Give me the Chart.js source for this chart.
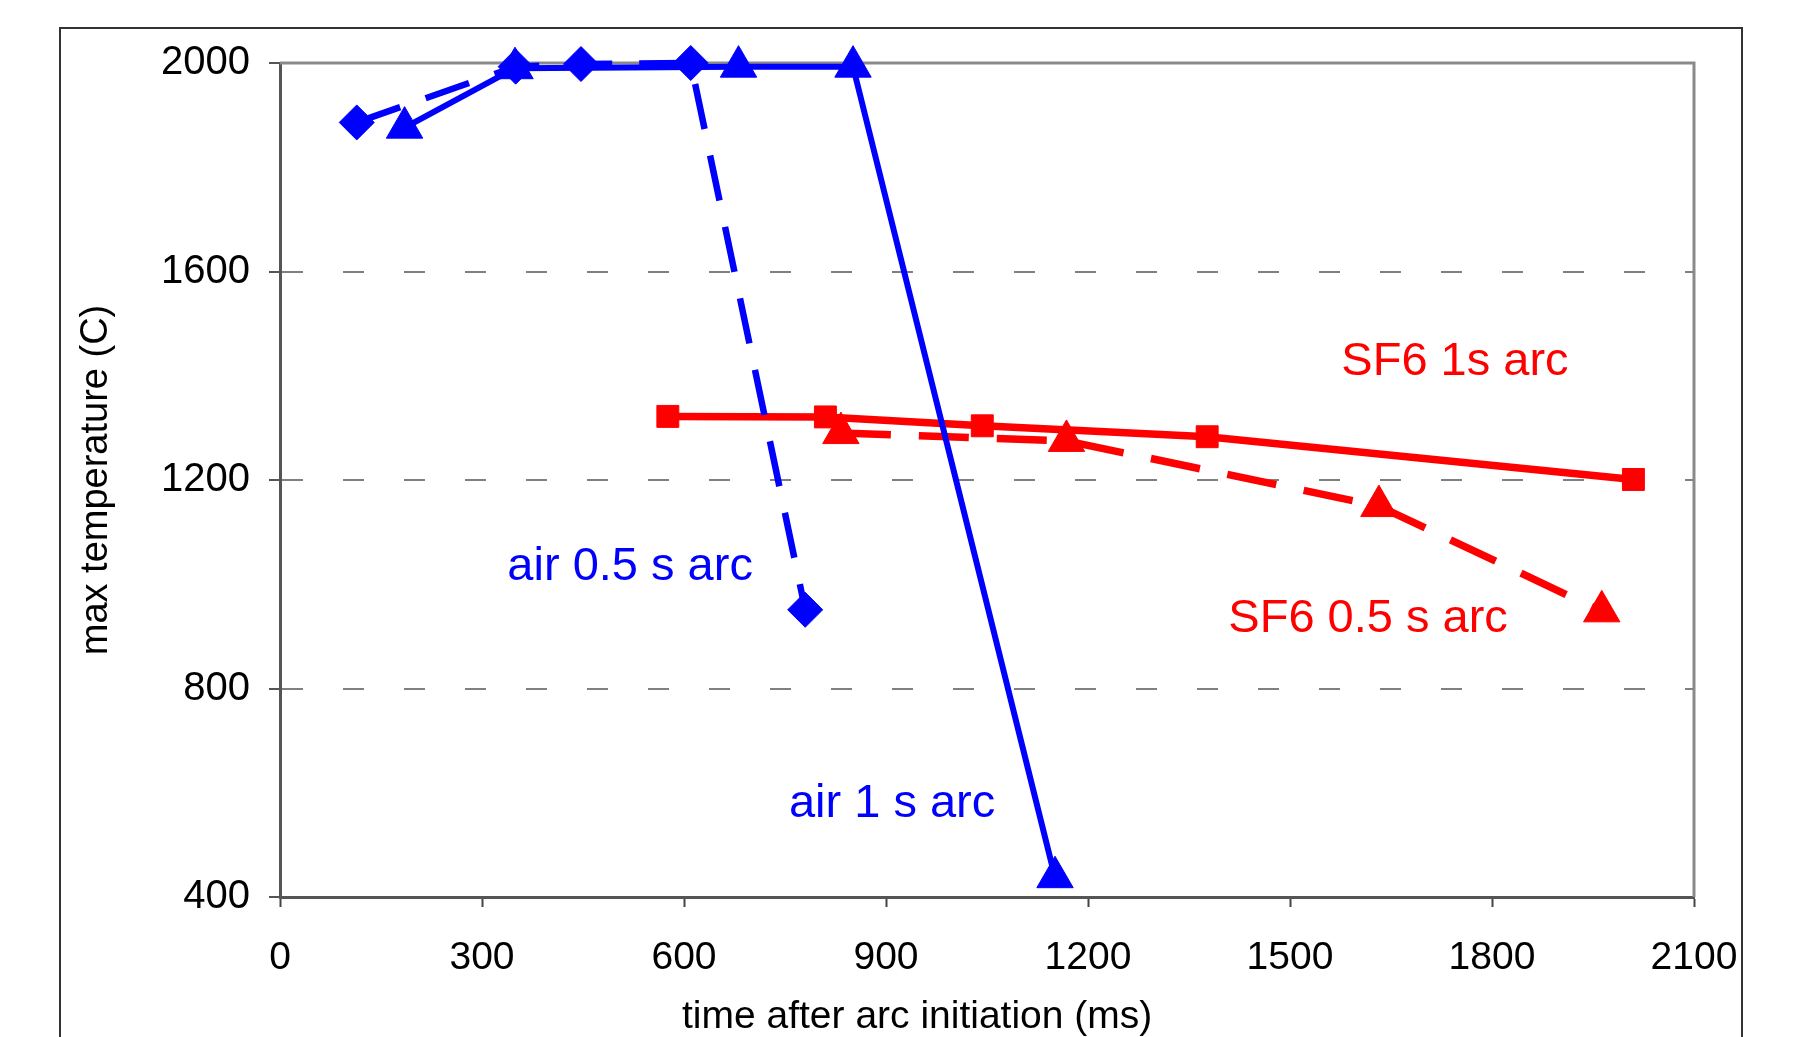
<!DOCTYPE html>
<html>
<head>
<meta charset="utf-8">
<script src="https://cdn.jsdelivr.net/npm/chart.js@4.4.1/dist/chart.umd.min.js"></script>
<style>
  html, body { margin: 0; padding: 0; background: #fff; }
  #wrap { width: 1806px; height: 1037px; position: relative; }
</style>
</head>
<body>
<div id="wrap"><canvas id="tempChart"></canvas></div>
<script>
// values (time in ms, temperature in C)
const air05Time = [114, 350, 447, 610, 780];
const air05Temp = [1886, 1993, 1998, 2000, 951];
const air1Time = [185, 349, 681, 851, 1151];
const air1Temp = [1876, 1990, 1993, 1993, 438];
const sf61Time = [576, 810, 1043, 1377, 2010];
const sf61Temp = [1322, 1321, 1304, 1283, 1201];
const sf605Time = [833, 1168, 1632, 1963];
const sf605Temp = [1290, 1275, 1150, 948];

const xTicks = [0, 300, 600, 900, 1200, 1500, 1800, 2100];
const yTicks = [400, 800, 1200, 1600, 2000];

// in-plot series labels, anchored in data units (centre x, baseline y)
const labelText = ["air 0.5 s arc", "air 1 s arc", "SF6 1s arc", "SF6 0.5 s arc"];
const labelTime = [520, 909, 1745, 1616];
const labelTemp = [1008, 554, 1401, 909];

const BLUE = "#0000ff";
const RED = "#ff0000";
const FONT = '"Liberation Sans", Arial, sans-serif';

Chart.defaults.font.family = FONT;
Chart.defaults.color = "#000";

const pts = (xs, ys) => xs.map((x, i) => ({ x: x, y: ys[i] }));

const decor = {
  id: "decor",
  beforeDraw(chart) {
    const ctx = chart.ctx;
    ctx.save();
    ctx.fillStyle = "#fff";
    ctx.fillRect(0, 0, chart.width, chart.height);
    ctx.strokeStyle = "#333";
    ctx.lineWidth = 2;
    ctx.strokeRect(60, 28, 1682, 1100);
    ctx.restore();
  },
  beforeDatasetsDraw(chart) {
    const { ctx, chartArea: a } = chart;
    ctx.save();
    ctx.strokeStyle = "#8a8a8a";
    ctx.lineWidth = 3;
    ctx.beginPath();
    ctx.moveTo(a.left, a.top);
    ctx.lineTo(a.right, a.top);
    ctx.lineTo(a.right, a.bottom);
    ctx.stroke();
    ctx.restore();
  },
  afterDraw(chart) {
    const { ctx, scales } = chart;
    ctx.save();
    ctx.textBaseline = "alphabetic";
    ctx.textAlign = "center";
    ctx.font = "47px " + FONT;
    labelText.forEach((t, i) => {
      ctx.fillStyle = i < 2 ? BLUE : RED;
      ctx.fillText(t, scales.x.getPixelForValue(labelTime[i]), scales.y.getPixelForValue(labelTemp[i]));
    });
    ctx.fillStyle = "#000";
    ctx.textAlign = "left";
    ctx.font = "39px " + FONT;
    ctx.fillText("time after arc initiation (ms)", 682, 1028);
    ctx.restore();
  }
};

new Chart(document.getElementById("tempChart"), {
  type: "line",
  data: {
    datasets: [
      {
        label: "air 0.5 s arc",
        data: pts(air05Time, air05Temp),
        borderColor: BLUE,
        borderWidth: 6.5,
        borderDash: [46, 27],
        pointStyle: "rectRot",
        pointRadius: 17.5,
        pointBackgroundColor: BLUE,
        pointBorderColor: BLUE,
        pointBorderWidth: 1
      },
      {
        label: "air 1 s arc",
        data: pts(air1Time, air1Temp),
        borderColor: BLUE,
        borderWidth: 6,
        pointStyle: "triangle",
        pointRadius: 21,
        pointBackgroundColor: BLUE,
        pointBorderColor: BLUE,
        pointBorderWidth: 1
      },
      {
        label: "SF6 1s arc",
        data: pts(sf61Time, sf61Temp),
        borderColor: RED,
        borderWidth: 7.5,
        pointStyle: "rect",
        pointRadius: 15.5,
        pointBackgroundColor: RED,
        pointBorderColor: RED,
        pointBorderWidth: 1
      },
      {
        label: "SF6 0.5 s arc",
        data: pts(sf605Time, sf605Temp),
        borderColor: RED,
        borderWidth: 7.5,
        borderDash: [50, 28],
        pointStyle: "triangle",
        pointRadius: 21,
        pointBackgroundColor: RED,
        pointBorderColor: RED,
        pointBorderWidth: 1
      }
    ]
  },
  options: {
    responsive: true,
    maintainAspectRatio: false,
    animation: false,
    datasets: { line: { clip: false, tension: 0, fill: false } },
    layout: { padding: { left: 0, top: 63, right: 112, bottom: 0 } },
    plugins: {
      legend: { display: false },
      tooltip: { enabled: false }
    },
    scales: {
      x: {
        type: "linear",
        min: 0,
        max: 2100,
        afterBuildTicks: (s) => { s.ticks = xTicks.map((v) => ({ value: v })); },
        afterFit: (s) => { s.height = 140; },
        ticks: {
          color: "#000",
          font: { size: 39 },
          padding: 28,
          maxRotation: 0,
          autoSkip: false,
          callback: (v) => String(v)
        },
        grid: { drawOnChartArea: false, tickLength: 10, tickColor: "#444", tickWidth: 2 },
        border: { color: "#555", width: 3 }
      },
      y: {
        min: 400,
        max: 2000,
        afterBuildTicks: (s) => { s.ticks = yTicks.map((v) => ({ value: v })); },
        afterFit: (s) => { s.width = 280; },
        ticks: {
          color: "#000",
          font: { size: 40 },
          padding: 19,
          autoSkip: false,
          callback: (v) => String(v)
        },
        grid: { color: "#808080", lineWidth: 2, tickLength: 11, tickColor: "#555", tickWidth: 2 },
        border: { color: "#555", width: 3, dash: [21, 40] },
        title: {
          display: true,
          text: "max temperature (C)",
          color: "#000",
          font: { size: 38 },
          padding: { top: 74, bottom: 0 }
        }
      }
    }
  },
  plugins: [decor]
});
</script>
</body>
</html>
